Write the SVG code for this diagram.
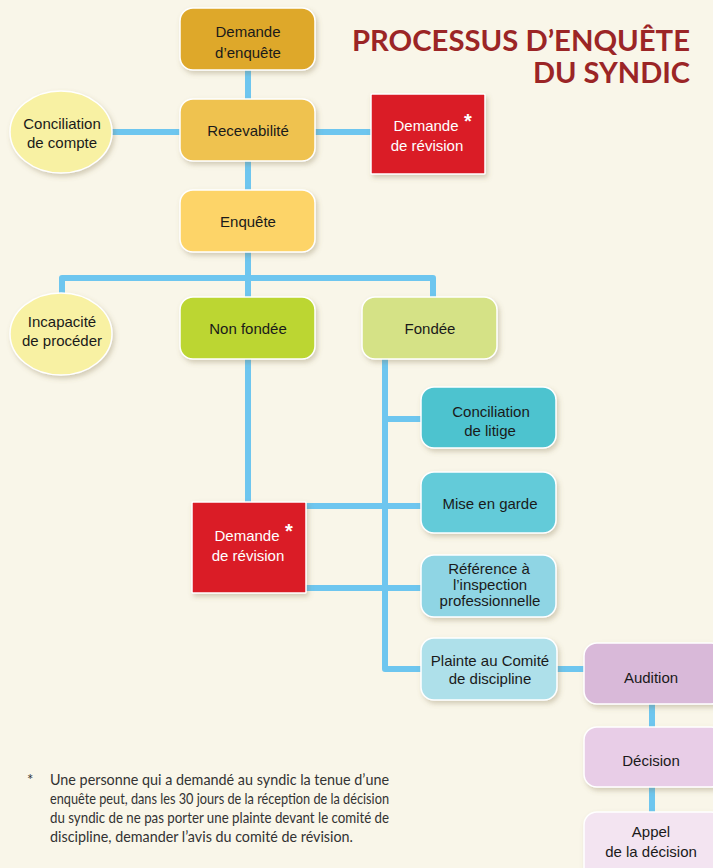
<svg xmlns="http://www.w3.org/2000/svg" width="713" height="868" viewBox="0 0 713 868">
<defs>
<filter id="sh" x="-20%" y="-20%" width="150%" height="160%">
<feDropShadow dx="2" dy="3" stdDeviation="2.5" flood-color="#7a6a40" flood-opacity="0.3"/>
</filter>
<style>
.bx{stroke:#ffffff;stroke-width:1.5;filter:url(#sh)}
.t{font-family:"Liberation Sans",Arial,sans-serif;font-size:15px;fill:#1a1a1a;text-anchor:middle}
.w{fill:#ffffff}
.ast{font-family:"Liberation Sans",Arial,sans-serif;font-size:20px;font-weight:bold;fill:#ffffff;text-anchor:middle}
.c{fill:none;stroke:#6ec6ef;stroke-width:6;stroke-linejoin:round}
.title{font-family:Lato,"Open Sans",sans-serif;font-weight:bold;font-size:29px;fill:#9b2526;text-anchor:end}
.fn{font-family:Lato,"Noto Sans",sans-serif;font-size:15px;fill:#333333}
</style>
</defs>
<rect x="0" y="0" width="713" height="868" fill="#f9f6e9"/>

<g id="connectors">
<path class="c" d="M248 70 V99 M248 161 V190 M248 252 V297"/>
<path class="c" d="M112 132 H180 M315 132 H371"/>
<path class="c" d="M62 296 V278 H433 V297"/>
<path class="c" d="M248 359 V502"/>
<path class="c" d="M385 359 V669 H421"/>
<path class="c" d="M385 419 H421"/>
<path class="c" d="M306 506 H421 M306 588 H421"/>
<path class="c" d="M557 669 H584"/>
<path class="c" d="M652 704 V727 M652 787 V812"/>
</g>

<g id="title">
<text class="title"><tspan x="690" y="51" textLength="338" lengthAdjust="spacingAndGlyphs">PROCESSUS D’ENQUÊTE</tspan><tspan x="690" y="83" textLength="157" lengthAdjust="spacingAndGlyphs">DU SYNDIC</tspan></text>
</g>

<g id="demande-enquete">
<rect class="bx" x="180" y="8" width="135" height="62" rx="13" fill="#dea82b"/>
<text class="t" x="248" y="37">Demande</text>
<text class="t" x="248" y="58">d’enquête</text>
</g>

<g id="recevabilite">
<rect class="bx" x="180" y="99" width="135" height="62" rx="13" fill="#efc24f"/>
<text class="t" x="248" y="136">Recevabilité</text>
</g>

<g id="conciliation-compte">
<ellipse class="bx" cx="61" cy="132" rx="51" ry="41" fill="#f8f1a3"/>
<text class="t" x="62" y="129">Conciliation</text>
<text class="t" x="62" y="148">de compte</text>
</g>

<g id="demande-revision-1">
<rect class="bx" x="371" y="94" width="114" height="80" rx="1" fill="#da1f26"/>
<text class="t w" x="426" y="131">Demande</text>
<text class="t w" x="427" y="151">de révision</text>
<text class="ast" x="468" y="128">*</text>
</g>

<g id="enquete">
<rect class="bx" x="180" y="190" width="135" height="62" rx="13" fill="#fdd468"/>
<text class="t" x="248" y="227">Enquête</text>
</g>

<g id="incapacite">
<ellipse class="bx" cx="61" cy="334" rx="51" ry="41" fill="#f8f1a3"/>
<text class="t" x="62" y="327">Incapacité</text>
<text class="t" x="62" y="346">de procéder</text>
</g>

<g id="non-fondee">
<rect class="bx" x="180" y="297" width="135" height="62" rx="13" fill="#bcd631"/>
<text class="t" x="248" y="334">Non fondée</text>
</g>

<g id="fondee">
<rect class="bx" x="362" y="297" width="135" height="62" rx="13" fill="#d5e286"/>
<text class="t" x="430" y="334">Fondée</text>
</g>

<g id="conciliation-litige">
<rect class="bx" x="421" y="387" width="135" height="61" rx="13" fill="#4ec3cf"/>
<text class="t" x="491" y="417">Conciliation</text>
<text class="t" x="490" y="436">de litige</text>
</g>

<g id="mise-en-garde">
<rect class="bx" x="421" y="472" width="135" height="61" rx="13" fill="#63cbd9"/>
<text class="t" x="490" y="509">Mise en garde</text>
</g>

<g id="reference">
<rect class="bx" x="421" y="555" width="135" height="62" rx="13" fill="#8fd5e4"/>
<text class="t" x="489" y="574">Référence à</text>
<text class="t" x="490" y="590">l’inspection</text>
<text class="t" x="490" y="606">professionnelle</text>
</g>

<g id="demande-revision-2">
<rect class="bx" x="192" y="502" width="114" height="91" rx="1" fill="#da1f26"/>
<text class="t w" x="247" y="541">Demande</text>
<text class="t w" x="248" y="561">de révision</text>
<text class="ast" x="289" y="538">*</text>
</g>

<g id="plainte">
<rect class="bx" x="421" y="638" width="136" height="62" rx="13" fill="#aee0ea"/>
<text class="t" x="490" y="666">Plainte au Comité</text>
<text class="t" x="490" y="684">de discipline</text>
</g>

<g id="audition">
<rect class="bx" x="584" y="643" width="140" height="61" rx="13" fill="#d9b9d9"/>
<text class="t" x="651" y="683">Audition</text>
</g>

<g id="decision">
<rect class="bx" x="584" y="727" width="140" height="60" rx="13" fill="#e8cde7"/>
<text class="t" x="651" y="766">Décision</text>
</g>

<g id="appel">
<rect class="bx" x="584" y="812" width="140" height="70" rx="13" fill="#f3e4f1"/>
<text class="t" x="651" y="837">Appel</text>
<text class="t" x="651" y="857">de la décision</text>
</g>

<g id="footnote">
<text class="fn" x="27" y="785">*</text>
<text class="fn" x="50" y="785" textLength="339" lengthAdjust="spacingAndGlyphs">Une personne qui a demandé au syndic la tenue d’une</text>
<text class="fn" x="50" y="804" textLength="339" lengthAdjust="spacingAndGlyphs">enquête peut, dans les 30 jours de la réception de la décision</text>
<text class="fn" x="50" y="823" textLength="339" lengthAdjust="spacingAndGlyphs">du syndic de ne pas porter une plainte devant le comité de</text>
<text class="fn" x="50" y="842" textLength="303" lengthAdjust="spacingAndGlyphs">discipline, demander l’avis du comité de révision.</text>
</g>
</svg>
